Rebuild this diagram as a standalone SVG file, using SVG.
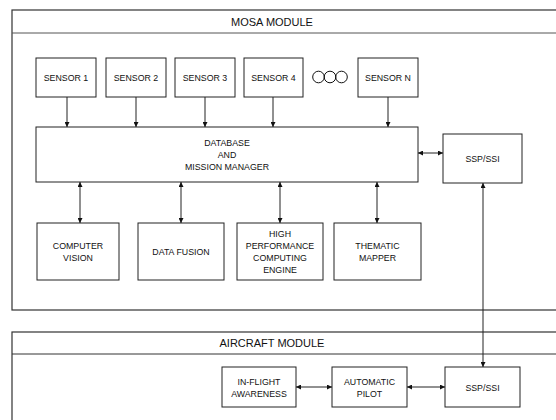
<svg xmlns="http://www.w3.org/2000/svg" width="556" height="420" viewBox="0 0 556 420">
<defs>
<marker id="ah" viewBox="0 0 10 10" refX="10" refY="5" markerWidth="5" markerHeight="5" orient="auto-start-reverse" markerUnits="userSpaceOnUse">
<path d="M0,0 L10,5 L0,10 z" fill="#111"/>
</marker>
<style>
.box{fill:#fff;stroke:#222;stroke-width:1}
.frame{fill:#fff;stroke:#333;stroke-width:1.2}
.t{font-family:"Liberation Sans",Arial,sans-serif;font-size:8.8px;fill:#111;text-anchor:middle}
.tt{font-family:"Liberation Sans",Arial,sans-serif;font-size:11px;fill:#111;text-anchor:middle}
.c{stroke:#222;stroke-width:1;fill:none}
.ring{fill:none;stroke:#111;stroke-width:1}
</style>
</defs>
<rect width="556" height="420" fill="#fff"/>
<g id="mosa">
<rect class="frame" x="12" y="10" width="560" height="300"/>
<line x1="12" y1="33" x2="572" y2="33" stroke="#555" stroke-width="1"/>
<text class="tt" x="272" y="26">MOSA MODULE</text>
</g>
<g id="aircraft">
<rect class="frame" x="12" y="332" width="560" height="100"/>
<line x1="12" y1="354" x2="572" y2="354" stroke="#333" stroke-width="1"/>
<text class="tt" x="272" y="347">AIRCRAFT MODULE</text>
</g>
<g id="sensor1"><rect class="box" x="36" y="58" width="60" height="39"/><text class="t" x="66" y="80.5">SENSOR 1</text></g>
<g id="sensor2"><rect class="box" x="106" y="58" width="60" height="39"/><text class="t" x="136" y="80.5">SENSOR 2</text></g>
<g id="sensor3"><rect class="box" x="175" y="58" width="60" height="39"/><text class="t" x="205" y="80.5">SENSOR 3</text></g>
<g id="sensor4"><rect class="box" x="244" y="58" width="59" height="39"/><text class="t" x="273.5" y="80.5">SENSOR 4</text></g>
<g id="ellipsis"><circle class="ring" cx="318.5" cy="77" r="5.8"/><circle class="ring" cx="330" cy="77" r="5.8"/><circle class="ring" cx="341.5" cy="77" r="5.8"/></g>
<g id="sensorN"><rect class="box" x="358" y="58" width="60" height="39"/><text class="t" x="388" y="80.5">SENSOR N</text></g>
<g id="db"><rect class="box" x="36" y="127" width="382" height="55"/>
<text class="t" x="227" y="146">DATABASE</text><text class="t" x="227" y="158">AND</text><text class="t" x="227" y="170">MISSION MANAGER</text></g>
<g id="ssp1"><rect class="box" x="443" y="134" width="79" height="49"/><text class="t" x="482.5" y="161.5">SSP/SSI</text></g>
<g id="cv"><rect class="box" x="37" y="223" width="82" height="57"/><text class="t" x="78" y="249">COMPUTER</text><text class="t" x="78" y="261">VISION</text></g>
<g id="df"><rect class="box" x="138" y="223" width="86" height="57"/><text class="t" x="181" y="255">DATA FUSION</text></g>
<g id="hpce"><rect class="box" x="237" y="223" width="86" height="57"/><text class="t" x="280" y="237">HIGH</text><text class="t" x="280" y="249">PERFORMANCE</text><text class="t" x="280" y="261">COMPUTING</text><text class="t" x="280" y="273">ENGINE</text></g>
<g id="tm"><rect class="box" x="334" y="223" width="87" height="57"/><text class="t" x="377.5" y="249">THEMATIC</text><text class="t" x="377.5" y="261">MAPPER</text></g>
<g id="ifa"><rect class="box" x="222" y="367" width="74" height="40"/><text class="t" x="259" y="385">IN-FLIGHT</text><text class="t" x="259" y="397">AWARENESS</text></g>
<g id="ap"><rect class="box" x="332" y="367" width="75" height="40"/><text class="t" x="369.5" y="385">AUTOMATIC</text><text class="t" x="369.5" y="397">PILOT</text></g>
<g id="ssp2"><rect class="box" x="445" y="367" width="75" height="40"/><text class="t" x="482.5" y="390.5">SSP/SSI</text></g>
<g id="connectors">
<line class="c" x1="67" y1="97" x2="67" y2="127" marker-end="url(#ah)"/>
<line class="c" x1="136" y1="97" x2="136" y2="127" marker-end="url(#ah)"/>
<line class="c" x1="205" y1="97" x2="205" y2="127" marker-end="url(#ah)"/>
<line class="c" x1="273" y1="97" x2="273" y2="127" marker-end="url(#ah)"/>
<line class="c" x1="388" y1="97" x2="388" y2="127" marker-end="url(#ah)"/>
<line class="c" x1="418" y1="153" x2="443" y2="153" marker-start="url(#ah)" marker-end="url(#ah)"/>
<line class="c" x1="80" y1="182" x2="80" y2="223" marker-start="url(#ah)" marker-end="url(#ah)"/>
<line class="c" x1="181" y1="182" x2="181" y2="223" marker-start="url(#ah)" marker-end="url(#ah)"/>
<line class="c" x1="280" y1="182" x2="280" y2="223" marker-start="url(#ah)" marker-end="url(#ah)"/>
<line class="c" x1="377" y1="182" x2="377" y2="223" marker-start="url(#ah)" marker-end="url(#ah)"/>
<line class="c" x1="483" y1="183" x2="483" y2="367" marker-start="url(#ah)" marker-end="url(#ah)"/>
<line class="c" x1="296" y1="387" x2="332" y2="387" marker-start="url(#ah)" marker-end="url(#ah)"/>
<line class="c" x1="407" y1="387" x2="445" y2="387" marker-start="url(#ah)" marker-end="url(#ah)"/>
</g>
</svg>
